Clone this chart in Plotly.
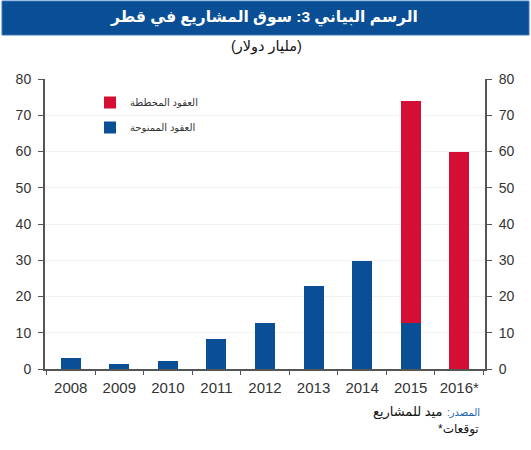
import plotly.graph_objects as go

years = ["2008", "2009", "2010", "2011", "2012", "2013", "2014", "2015", "2016*"]
awarded = [2.9, 1.5, 2.3, 8.4, 12.6, 22.9, 29.8, 12.8, 0]
planned = [0, 0, 0, 0, 0, 0, 0, 61.1, 59.8]
y_ticks = [0, 10, 20, 30, 40, 50, 60, 70, 80]

RLM = "\u200f"
title_text = "الرسم البياني 3: سوق المشاريع في قطر"
subtitle_text = "(مليار دولار)"
name_awarded = "العقود الممنوحة"
name_planned = "العقود المخططة"
source_label = "المصدر:" + RLM
source_text = "ميد للمشاريع"
note_text = "توقعات*" + RLM

BLUE = "#0a4f96"
RED = "#d50f34"
FONT = "Liberation Sans, DejaVu Sans, Arial, sans-serif"

fig = go.Figure()
fig.add_trace(go.Bar(x=years, y=awarded, name=name_awarded, legendgroup="a", legendrank=2,
                     marker=dict(color=BLUE, line_width=0), width=0.41))
fig.add_trace(go.Bar(x=years, y=planned, name=name_planned, legendgroup="p", legendrank=1,
                     marker=dict(color=RED, line_width=0), width=0.41))
fig.add_trace(go.Scatter(x=years, y=awarded, yaxis="y2", mode="markers", marker=dict(opacity=0),
                         showlegend=False, hoverinfo="skip"))

L, R, T, B = 45, 46, 79, 81
W, H = 531, 450
pw, ph = W - L - R, H - T - B

def px(x):
    return (x - L) / pw

def py(y):
    return (H - B - y) / ph

axis_common = dict(
    range=[0, 80], tickvals=y_ticks, showline=True, linecolor="#555555", linewidth=2,
    ticks="outside", ticklen=5, tickcolor="#555555", tickfont=dict(size=14, color="#333333", family=FONT),
    zeroline=False, ticklabelstandoff=4,
)

fig.update_layout(
    width=W, height=H,
    margin=dict(l=L, r=R, t=T, b=B),
    barmode="stack",
    plot_bgcolor="white", paper_bgcolor="white",
    font=dict(family=FONT, color="#222222"),
    showlegend=True,
    legend=dict(x=px(90), y=py(88), xanchor="left", yanchor="top", traceorder="grouped",
                font=dict(size=10, color="#333333"), bgcolor="rgba(0,0,0,0)",
                tracegroupgap=6),
    xaxis=dict(showline=True, linecolor="#555555", linewidth=2, ticks="outside", ticklen=4,
               tickson="boundaries", tickcolor="#555555", tickfont=dict(size=15, color="#333333", family=FONT),
               showgrid=False, ticklabelstandoff=4),
    yaxis=dict(side="left", showgrid=True, gridcolor="#f2f2f2", gridwidth=1, **axis_common),
    yaxis2=dict(side="right", overlaying="y", showgrid=False, **axis_common),
    bargap=0.59,
)

fig.add_shape(type="rect", xref="paper", yref="paper", x0=px(2), x1=px(529), y0=py(35), y1=py(1),
              fillcolor=BLUE, line=dict(color="#3a78c0", width=1), layer="below")
fig.add_annotation(xref="paper", yref="paper", x=px(264), y=py(18), text="<b>" + title_text + "</b>",
                   showarrow=False, font=dict(size=15.5, color="white", family=FONT), xanchor="center", yanchor="middle")
fig.add_annotation(xref="paper", yref="paper", x=px(266), y=py(46), text=subtitle_text,
                   showarrow=False, font=dict(size=14.5, color="#111111", family=FONT), xanchor="center", yanchor="middle")
fig.add_annotation(xref="paper", yref="paper", x=px(482), y=py(412), text=source_label,
                   showarrow=False, font=dict(size=10, color="#1a5fb0", family=FONT), xanchor="right", yanchor="middle")
fig.add_annotation(xref="paper", yref="paper", x=px(444), y=py(412), text=source_text,
                   showarrow=False, font=dict(size=13, color="#111111", family=FONT), xanchor="right", yanchor="middle")
fig.add_annotation(xref="paper", yref="paper", x=px(481), y=py(429), text=note_text,
                   showarrow=False, font=dict(size=12, color="#111111", family=FONT), xanchor="right", yanchor="middle")

fig.write_html("out.html")
